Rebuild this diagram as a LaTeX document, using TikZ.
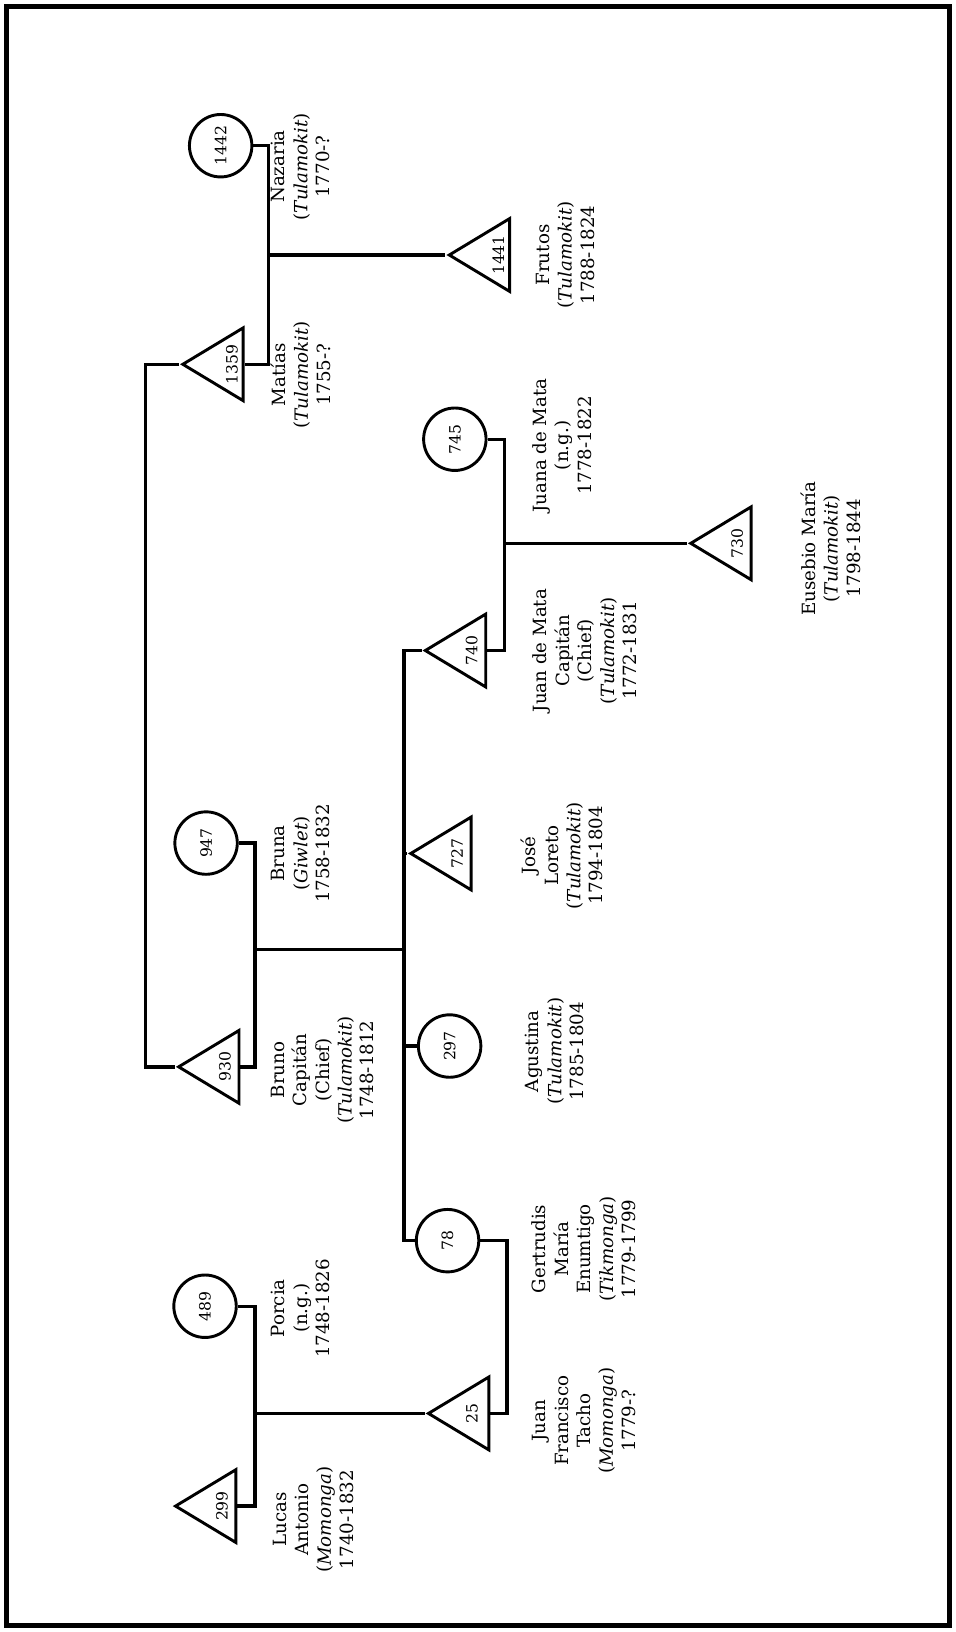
\documentclass[tikz,border=0pt]{standalone}
\usepackage{fontspec}
\setmainfont{DejaVu Serif}
\usepackage{graphicx}
\usetikzlibrary{shapes.geometric}
\begin{document}
\begin{tikzpicture}[x=1pt,y=-1pt,
  fem/.style={draw, circle, line width=2.8pt, minimum size=60pt, inner sep=0pt, font=\fontsize{15}{15}\selectfont},
  mal/.style={draw, isosceles triangle, isosceles triangle stretches, shape border rotate=180, minimum height=58pt, minimum width=70pt, inner sep=0pt, line width=2.8pt, anchor=apex, font=\fontsize{15}{15}\selectfont},
  lab/.style={rotate=90, align=center, font=\fontsize{17.5}{21.5}\selectfont},
  link/.style={line width=3.2pt}]
\useasboundingbox (0,0) rectangle (918,1568);
\fill[white] (0,0) rectangle (918,1568);
\draw[line width=4.5pt] (6,6) rectangle (912,1562);

% nodes
\node[fem] (n1442) at (212,140) {\rotatebox{90}{1442}};
\node[mal] (n1359) at (172,350) {\rotatebox{90}{1359}};
\node[mal] (n1441) at (428,245) {\rotatebox{90}{1441}};
\node[fem] (n745) at (437,422) {\rotatebox{90}{745}};
\node[mal] (n740) at (405,625) {\rotatebox{90}{740}};
\node[mal] (n730) at (660,522) {\rotatebox{90}{730}};
\node[mal] (n727) at (391,820) {\rotatebox{90}{727}};
\node[fem] (n947) at (198,810) {\rotatebox{90}{947}};
\node[mal] (n930) at (168,1025) {\rotatebox{90}{930}};
\node[fem] (n297) at (432,1005) {\rotatebox{90}{297}};
\node[fem] (n78) at (430,1192) {\rotatebox{90}{78}};
\node[mal] (n25) at (408,1358) {\rotatebox{90}{25}};
\node[fem] (n489) at (197,1255) {\rotatebox{90}{489}};
\node[mal] (n299) at (165,1447) {\rotatebox{90}{299}};

% labels
\node[lab] (l1442) at (289,160) {Nazaria\\(\textit{Tulamokit})\\1770-?};
\node[lab] (l1359) at (289,360) {Matías\\(\textit{Tulamokit})\\1755-?};
\node[lab] (l1441) at (543,245) {Frutos\\(\textit{Tulamokit})\\1788-1824};
\node[lab] (l745) at (540,428) {Juana de Mata\\(n.g.)\\1778-1822};
\node[lab] (l730) at (798,527) {Eusebio María\\(\textit{Tulamokit})\\1798-1844};
\node[lab] (l740) at (562,625) {Juan de Mata\\Capitán\\(Chief)\\(\textit{Tulamokit})\\1772-1831};
\node[lab] (l727) at (540,822) {José\\Loreto\\(\textit{Tulamokit})\\1794-1804};
\node[lab] (l947) at (289,820) {Bruna\\(\textit{Giwlet})\\1758-1832};
\node[lab] (l930) at (310,1028) {Bruno\\Capitán\\(Chief)\\(\textit{Tulamokit})\\1748-1812};
\node[lab] (l297) at (533,1010) {Agustina\\(\textit{Tulamokit})\\1785-1804};
\node[lab] (l78) at (561,1200) {Gertrudis\\María\\Enumtigo\\(\textit{Tikmonga})\\1779-1799};
\node[lab] (l25) at (561,1365) {Juan\\Francisco\\Tacho\\(\textit{Momonga})\\1779-?};
\node[lab] (l489) at (289,1257) {Porcia\\(n.g.)\\1748-1826};
\node[lab] (l299) at (301,1460) {Lucas\\Antonio\\(\textit{Momonga})\\1740-1832};

% junction coordinates
\coordinate (c1) at (258,245);
\coordinate (c2) at (245,912);
\coordinate (s1) at (388,912);
\coordinate (sb) at (388,1192);
\coordinate (c3) at (485,522);
\coordinate (c4) at (487,1275);
\coordinate (c5) at (245,1358);
\coordinate (lv) at (140,700);

% connectors
\draw[link] (n1442.east) -| (c1) |- (n1359.lower side);
\draw[link] (c1) -- (n1441.apex);
\draw[link] (n1359.apex) -| (lv) |- (n930.apex);
\draw[link] (n947.east) -| (c2) |- (n930.lower side);
\draw[link] (c2) -- (s1);
\draw[link] (n740.apex) -| (sb) -- (n78.west);
\draw[link] (n727.apex) -- (n727.apex -| s1);
\draw[link] (n297.west) -- (n297.west -| s1);
\draw[link] (n745.east) -| (c3) |- (n740.lower side);
\draw[link] (c3) -- (n730.apex);
\draw[link] (n78.east) -| (c4) |- (n25.lower side);
\draw[link] (n489.east) -| (c5) |- (n299.lower side);
\draw[link] (c5) -- (n25.apex);
\end{tikzpicture}
\end{document}
